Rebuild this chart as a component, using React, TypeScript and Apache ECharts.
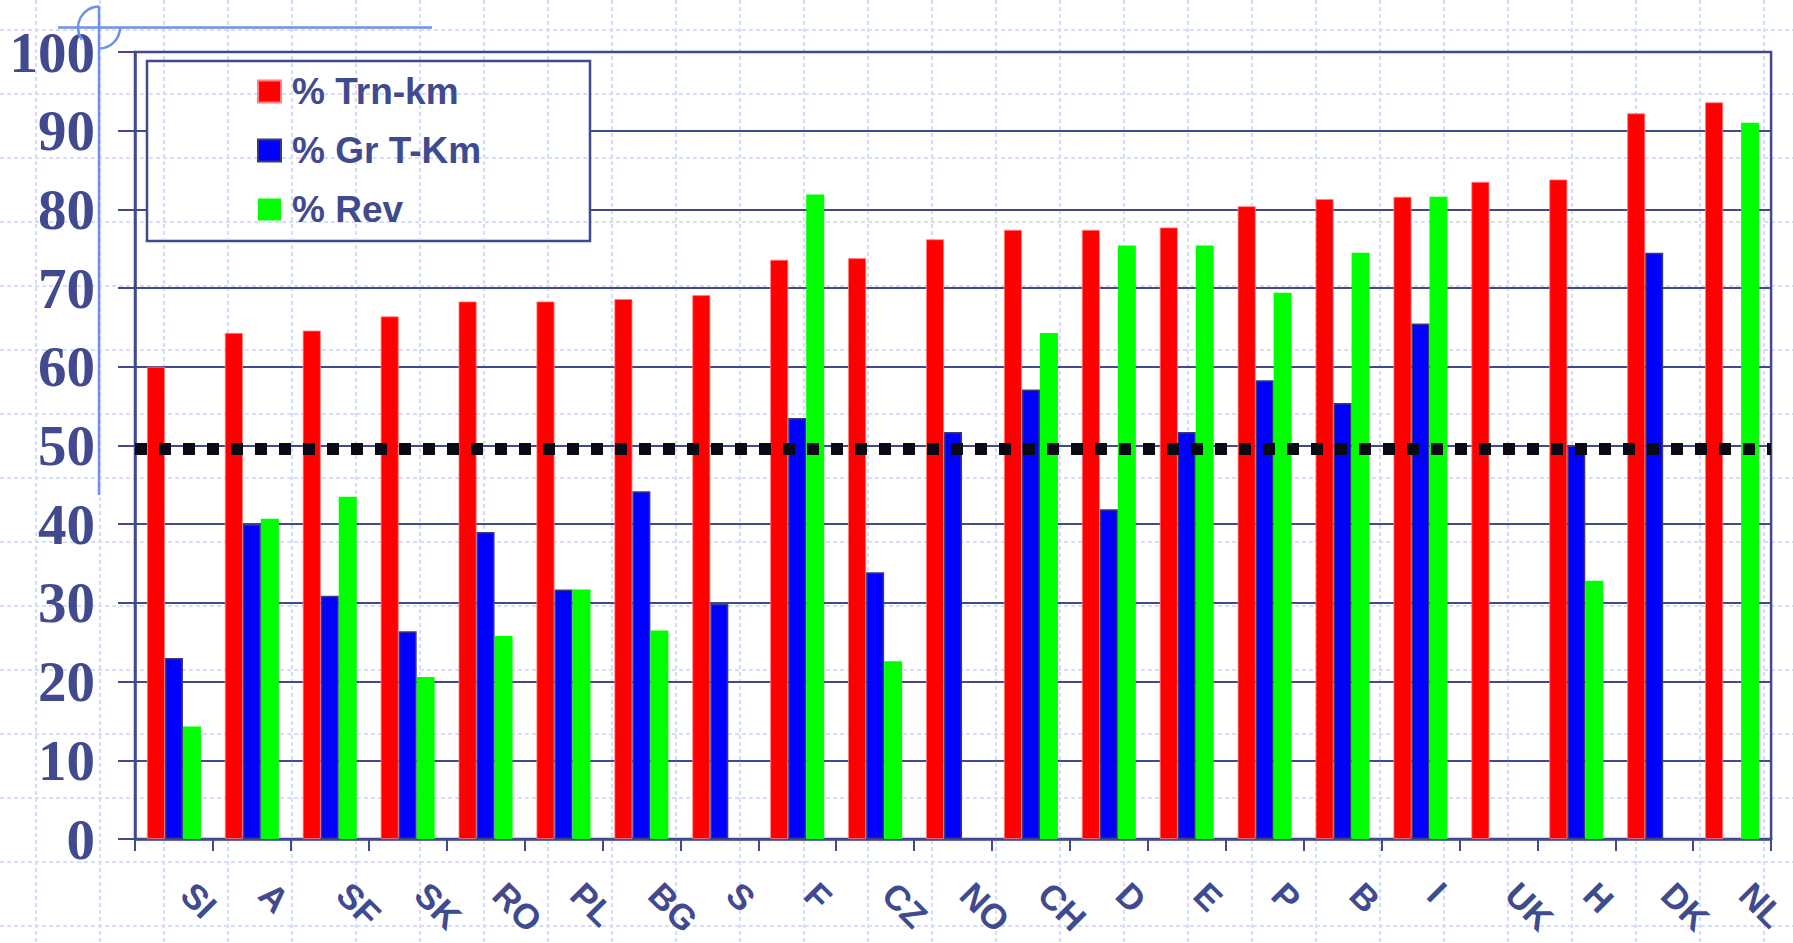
import React, { useEffect, useRef } from "react";
import * as echarts from "echarts";

const categories = ["SI", "A", "SF", "SK", "RO", "PL", "BG", "S", "F", "CZ", "NO", "CH", "D", "E", "P", "B", "I", "UK", "H", "DK", "NL"];
const trnKm = [60.0, 64.3, 64.6, 66.4, 68.3, 68.3, 68.6, 69.1, 73.6, 73.8, 76.2, 77.4, 77.4, 77.7, 80.4, 81.3, 81.6, 83.5, 83.8, 92.2, 93.6];
const grTKm = [23.0, 40.0, 30.9, 26.4, 39.0, 31.7, 44.2, 29.9, 53.5, 33.9, 51.7, 57.1, 41.9, 51.7, 58.3, 55.4, 65.5, null, 50.0, 74.5, null];
const rev = [14.3, 40.7, 43.5, 20.6, 25.8, 31.7, 26.5, null, 81.9, 22.6, null, 64.3, 75.4, 75.4, 69.4, 74.5, 81.6, null, 32.8, null, 91.0];
const seriesNames = ["% Trn-km", "% Gr T-Km", "% Rev"];
const yMin = 0;
const yMax = 100;
const yInterval = 10;
const thresholdValue = 49.6;

const W = 1793;
const H = 943;
const INK = "#414a8e";
const PATTERN = "#d4def8";
const DECO = "#7090f0";

function buildGraphics() {
  const g: any[] = [];
  const pat = { stroke: PATTERN, lineWidth: 2.2, lineDash: [4, 3] };
  for (let x = 36; x <= W; x += 64) {
    g.push({ type: "line", z: -1, silent: true, shape: { x1: x, y1: 0, x2: x, y2: H }, style: pat });
  }
  for (let y = 30; y <= H; y += 64) {
    g.push({ type: "line", z: -1, silent: true, shape: { x1: 0, y1: y, x2: W, y2: y }, style: pat });
  }
  const bx = 147, by = 61, bw = 443, bh = 180;
  g.push({ type: "rect", z: 3, silent: true, shape: { x: bx, y: by, width: bw, height: bh }, style: { fill: "#ffffff", stroke: INK, lineWidth: 2.5 } });
  for (let x = 36; x <= W; x += 64) {
    if (x > bx + 2 && x < bx + bw - 2) {
      g.push({ type: "line", z: 4, silent: true, shape: { x1: x, y1: by + 2, x2: x, y2: by + bh - 2 }, style: pat });
    }
  }
  for (let y = 30; y <= H; y += 64) {
    if (y > by + 2 && y < by + bh - 2) {
      g.push({ type: "line", z: 4, silent: true, shape: { x1: bx + 2, y1: y, x2: bx + bw - 2, y2: y }, style: pat });
    }
  }
  g.push({ type: "line", z: 1, silent: true, shape: { x1: 99, y1: 6, x2: 99, y2: 495 }, style: { stroke: DECO, lineWidth: 2.5 } });
  g.push({ type: "line", z: 1, silent: true, shape: { x1: 58, y1: 27.5, x2: 432, y2: 27.5 }, style: { stroke: DECO, lineWidth: 2.5 } });
  g.push({ type: "arc", z: 1, silent: true, shape: { cx: 99, cy: 27.5, r: 21, startAngle: Math.PI * 0.8, endAngle: Math.PI * 1.5, clockwise: true }, style: { stroke: DECO, lineWidth: 2.5, fill: "none" } });
  g.push({ type: "arc", z: 1, silent: true, shape: { cx: 99, cy: 27.5, r: 21, startAngle: 0, endAngle: Math.PI * 0.5, clockwise: true }, style: { stroke: DECO, lineWidth: 2.5, fill: "none" } });
  return g;
}

export default function App() {
  const ref = useRef<HTMLDivElement>(null);
  useEffect(() => {
    if (!ref.current) return;
    const chart = echarts.init(ref.current, null, { renderer: "svg" });
    const barBase = { type: "bar", barWidth: 18, barGap: "0%", emphasis: { disabled: true } };
    chart.setOption({
      animation: false,
      backgroundColor: "transparent",
      graphic: { elements: buildGraphics() },
      grid: { left: 135, right: 20, top: 52, bottom: 104, show: true, borderColor: INK, borderWidth: 2.5, backgroundColor: "transparent" },
      legend: {
        data: seriesNames,
        orient: "vertical",
        left: 257,
        top: 73,
        padding: 0,
        z: 6,
        icon: "rect",
        itemWidth: 23,
        itemHeight: 22,
        itemGap: 22,
        selectedMode: false,
        textStyle: { color: INK, fontSize: 37, fontWeight: "bold", fontFamily: "Liberation Sans, Arial, sans-serif", padding: [4, 0, 0, 6] },
      },
      xAxis: {
        type: "category",
        data: categories,
        axisLine: { lineStyle: { color: INK, width: 2.5 } },
        axisTick: { show: true, length: 12, lineStyle: { color: INK, width: 2 } },
        axisLabel: { interval: 0, rotate: -45, margin: 36, padding: [0, 0, 0, 19], fontSize: 35, fontWeight: "bold", fontFamily: "Liberation Sans, Arial, sans-serif", color: INK },
        splitLine: { show: false },
      },
      yAxis: {
        type: "value",
        min: yMin,
        max: yMax,
        interval: yInterval,
        axisLine: { show: true, lineStyle: { color: INK, width: 2.5 } },
        axisTick: { show: true, length: 17, lineStyle: { color: INK, width: 2 } },
        axisLabel: { margin: 40, fontSize: 57, fontWeight: "bold", fontFamily: "Liberation Serif, Times New Roman, serif", color: INK },
        splitLine: { show: true, lineStyle: { color: INK, width: 2 } },
      },
      series: [
        {
          ...barBase,
          name: seriesNames[0],
          data: trnKm,
          itemStyle: { color: "#ff0000", borderColor: "#ff8080", borderWidth: 0.8 },
          markLine: {
            silent: true,
            symbol: ["none", "none"],
            label: { show: false },
            z: 10,
            lineStyle: { color: "#0a0a14", width: 12, type: [12, 12], cap: "butt" },
            data: [{ yAxis: thresholdValue }],
          },
        },
        { ...barBase, name: seriesNames[1], data: grTKm, itemStyle: { color: "#0000ff", borderColor: "#3a3a78", borderWidth: 1.5 } },
        { ...barBase, name: seriesNames[2], data: rev, itemStyle: { color: "#00ff00" } },
      ],
    });
    return () => chart.dispose();
  }, []);
  return <div ref={ref} style={{ position: "absolute", left: 0, top: 0, width: W, height: H, background: "#ffffff" }} />;
}
